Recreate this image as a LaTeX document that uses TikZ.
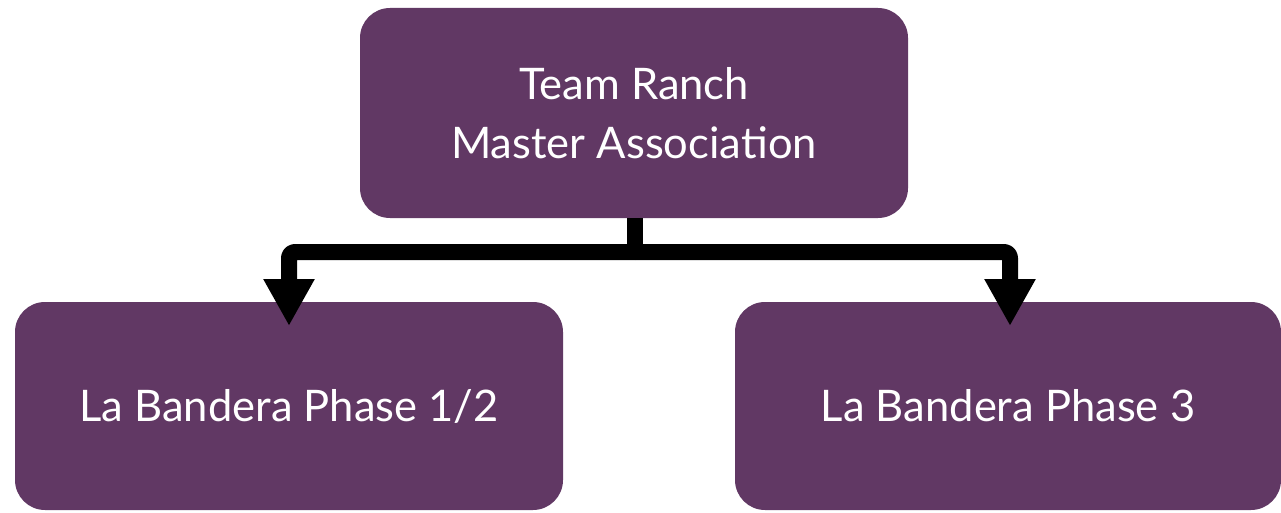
\documentclass[tikz,border=0pt]{standalone}
\usepackage{fontspec}
\setmainfont{Lato}
\usetikzlibrary{arrows.meta}
\definecolor{boxpurple}{RGB}{97,56,100}
\begin{document}
\begin{tikzpicture}[x=1pt,y=-1pt,
  box/.style={fill=boxpurple, rounded corners=30pt, text=white, align=center,
    inner sep=0pt, font=\fontsize{43.5}{59}\selectfont},
  conn/.style={line width=16pt, draw=black, line join=round, rounded corners=6pt},
  tip/.style={-{Triangle[width=48pt,length=47pt]}}]
\useasboundingbox (0,0) rectangle (1281,513);
\node[box, minimum width=548pt, minimum height=210pt] (top) at (634,113) {Team Ranch\\Master Association};
\node[box, minimum width=548pt, minimum height=208pt] (left) at (289,406) {La Bandera Phase 1/2};
\node[box, minimum width=546pt, minimum height=208pt] (right) at (1008,406) {La Bandera Phase 3};
\coordinate (j) at (635,252);
\coordinate (lt) at (289,326);
\coordinate (rt) at (1010,326);
\draw[conn] (top.south -| j) -- (j);
\draw[conn,tip] (j) -| (lt);
\draw[conn,tip] (j) -| (rt);
\end{tikzpicture}
\end{document}
